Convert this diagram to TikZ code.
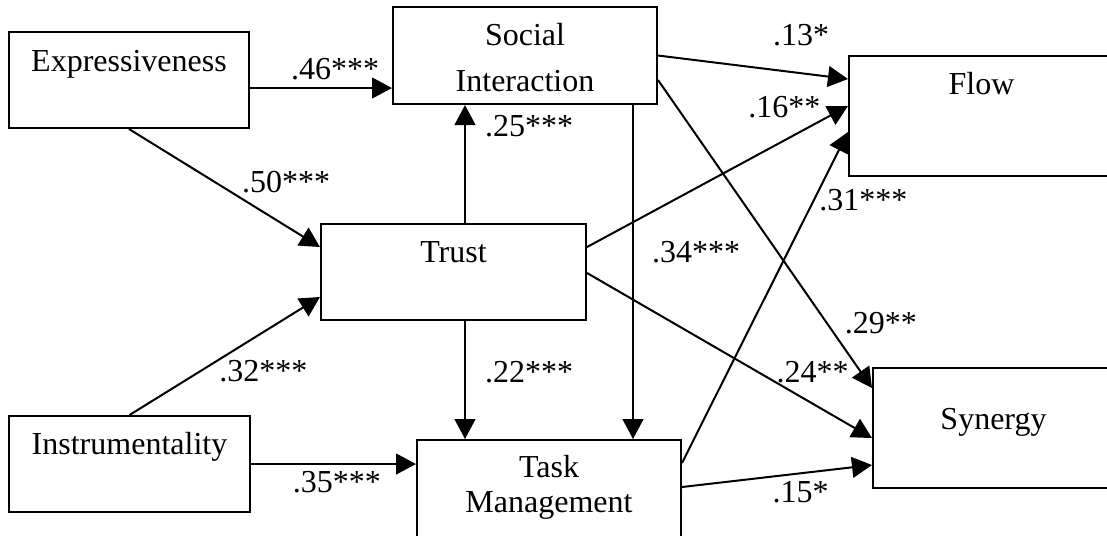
\documentclass[tikz,border=0pt]{standalone}
\usepackage{fontspec}
\setmainfont{Liberation Serif}
\usetikzlibrary{arrows.meta, positioning, calc}

\tikzset{
  box/.style={draw, rectangle, inner sep=0pt},
  boxtext/.style={anchor=base, inner sep=0pt, align=center},
  coef/.style={inner sep=1pt}
}

\begin{document}
\begin{tikzpicture}[->, >={Triangle[length=7.5pt,width=7.8pt]}, x=0.375pt, y=-0.375pt,
    line width=0.75pt, font=\fontsize{12}{14.5}\selectfont]
  \useasboundingbox (0,0) rectangle (1107,535);
  \clip (0,0) rectangle (1107,535);

  % boxes
  \node[box, minimum width=90pt, minimum height=36pt] (ex) at (129,80) {};
  \node[box, minimum width=99pt, minimum height=36.4pt] (si) at (525,55.5) {};
  \node[box, minimum width=99.4pt, minimum height=36pt] (tr) at (453.5,272) {};
  \node[box, minimum width=99.4pt, minimum height=45pt] (fl) at (981.5,116) {};
  \node[box, minimum width=90.4pt, minimum height=45pt] (sy) at (993.5,428) {};
  \node[box, minimum width=90.4pt, minimum height=36pt] (ins) at (129.5,464) {};
  \node[box, minimum width=99pt, minimum height=37.5pt] (tm) at (549,490) {};

  % box texts (base = last line)
  \node[boxtext] (ex-l) at ($(ex.north)+(0,40)$) {Expressiveness};
  \node[boxtext] (si-l) at ($(si.north)+(0,86)$) {Social\\[2.75pt]Interaction};
  \node[boxtext] (tr-l) at ($(tr.north)+(0,39)$) {Trust};
  \node[boxtext] (fl-l) at ($(fl.north)+(0,39)$) {Flow};
  \node[boxtext] (sy-l) at ($(sy.north)+(0,62)$) {Synergy};
  \node[boxtext] (ins-l) at ($(ins.north)+(0,39)$) {Instrumentality};
  \node[boxtext] (tm-l) at ($(tm.north)+(0,73)$) {Task\\[-1.4pt]Management};

  % paths
  \draw ($(ex.east)+(0,8)$) -- node[coef, pos=.6, shift={(0,-19)}] {.46***} ($(si.west)+(0,32.5)$);
  \draw (ex.south) -- node[coef, pos=.72, shift={(19.5,-31.7)}] {.50***} ($(tr.west)+(0,-25)$);
  \draw ($(tr.north)+(11.5,0)$) -- node[coef, pos=.825, shift={(64,0)}] {.25***} ($(si.south)+(-60,0)$);
  \draw ($(tr.south)+(11.5,0)$) -- node[coef, pos=.433, shift={(64,0)}] {.22***} ($(tm.north)+(-84,0)$);
  \draw ($(si.south)+(108,0)$) -- node[coef, pos=.44, shift={(63,0)}] {.34***} ($(tm.north)+(84,0)$);
  \draw (ins.north) -- node[coef, pos=.61, shift={(17.7,28.5)}] {.32***} ($(tr.west)+(0,25)$);
  \draw (ins.east) -- node[coef, pos=.52, shift={(0,18)}] {.35***} ($(tm.west)+(0,-26)$);
  \draw (si.east) -- node[coef, pos=.73, shift={(4.5,-37.8)}] {.13*} ($(fl.west)+(0,-37)$);
  \draw ($(tr.east)+(0,-25)$) -- node[coef, pos=.81, shift={(-14,-26)}] {.16**} ($(fl.west)+(0,-10)$);
  \draw ($(tm.east)+(0,-27)$) -- node[coef, pos=.855, shift={(39.4,20)}] {.31***} ($(fl.west)+(0,16)$);
  \draw ($(si.east)+(0,24.5)$) -- node[coef, pos=.871, shift={(36.5,-25.3)}] {.29**} ($(sy.west)+(0,-40)$);
  \draw ($(tr.east)+(0,1)$) -- node[coef, pos=.744, shift={(13.5,-23.7)}] {.24**} ($(sy.west)+(0,10)$);
  \draw ($(tm.east)+(0,-3)$) -- node[coef, pos=.625, shift={(0,18.75)}] {.15*} ($(sy.west)+(0,37)$);
\end{tikzpicture}
\end{document}
